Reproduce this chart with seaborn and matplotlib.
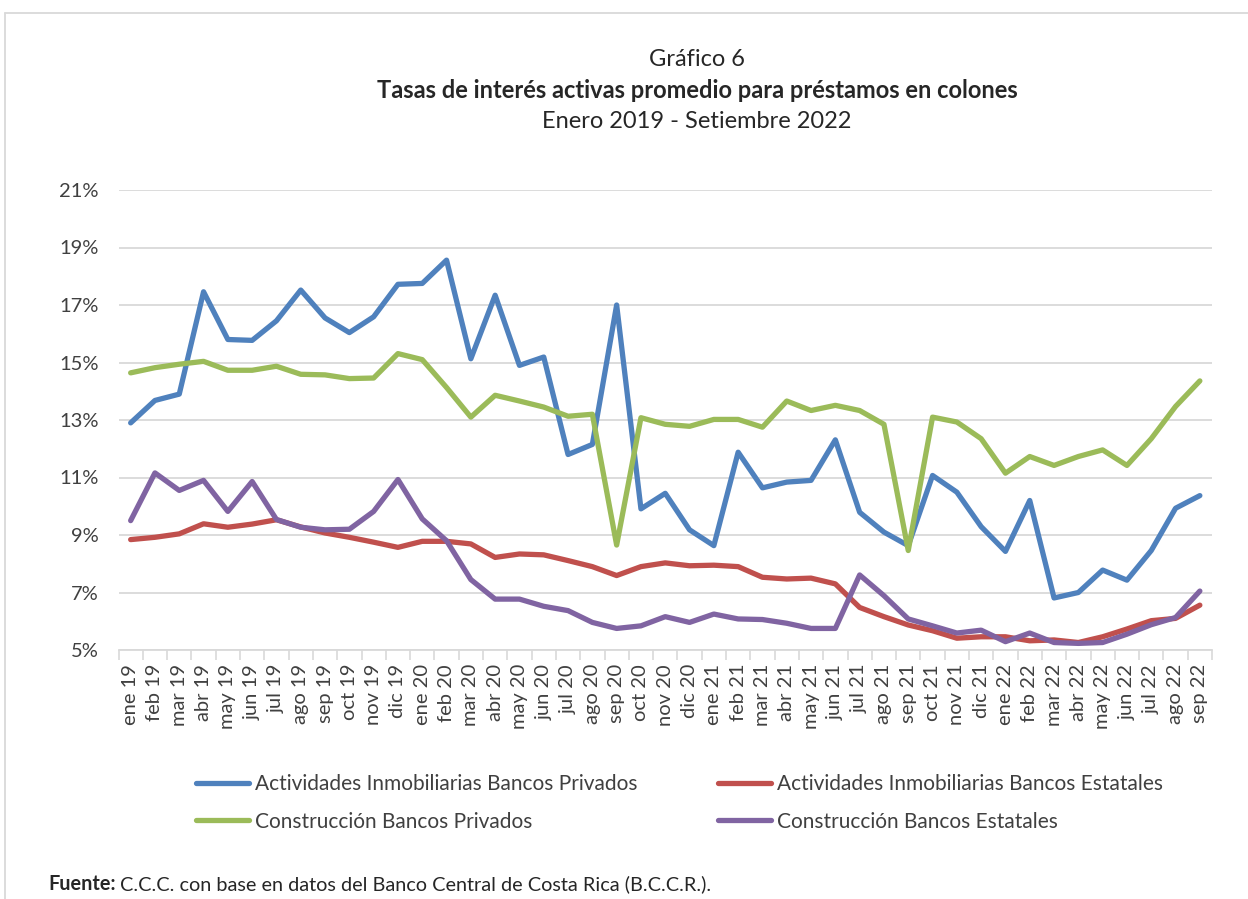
import matplotlib
matplotlib.use("Agg")
import matplotlib.pyplot as plt
from matplotlib.lines import Line2D
from matplotlib.ticker import FixedLocator, PercentFormatter
import pandas as pd
import seaborn as sns

# Etiquetas de meses (ene 19 - sep 22)
meses = [
    "ene 19", "feb 19", "mar 19", "abr 19", "may 19", "jun 19", "jul 19", "ago 19", "sep 19", "oct 19", "nov 19", "dic 19",
    "ene 20", "feb 20", "mar 20", "abr 20", "may 20", "jun 20", "jul 20", "ago 20", "sep 20", "oct 20", "nov 20", "dic 20",
    "ene 21", "feb 21", "mar 21", "abr 21", "may 21", "jun 21", "jul 21", "ago 21", "sep 21", "oct 21", "nov 21", "dic 21",
    "ene 22", "feb 22", "mar 22", "abr 22", "may 22", "jun 22", "jul 22", "ago 22", "sep 22",
]

# Tasas (%)
act_privados = [12.90, 13.68, 13.90, 17.46, 15.80, 15.77, 16.45, 17.52, 16.55, 16.04, 16.59, 17.72,
                17.75, 18.56, 15.13, 17.34, 14.90, 15.19, 11.80, 12.15, 17.00, 9.91, 10.45, 9.18,
                8.63, 11.88, 10.64, 10.84, 10.90, 12.31, 9.79, 9.10, 8.63, 11.07, 10.49, 9.29,
                8.43, 10.20, 6.81, 7.00, 7.78, 7.43, 8.46, 9.93, 10.37]
act_estatales = [8.84, 8.92, 9.04, 9.39, 9.27, 9.38, 9.53, 9.28, 9.07, 8.92, 8.75, 8.57,
                 8.78, 8.78, 8.69, 8.22, 8.34, 8.31, 8.11, 7.90, 7.59, 7.90, 8.03, 7.93,
                 7.95, 7.90, 7.53, 7.47, 7.50, 7.30, 6.48, 6.16, 5.87, 5.67, 5.41, 5.46,
                 5.46, 5.32, 5.35, 5.26, 5.46, 5.73, 6.02, 6.10, 6.56]
cons_privados = [14.64, 14.82, 14.94, 15.04, 14.73, 14.73, 14.87, 14.59, 14.57, 14.44, 14.46, 15.31,
                 15.10, 14.13, 13.10, 13.86, 13.66, 13.45, 13.13, 13.20, 8.65, 13.08, 12.85, 12.78,
                 13.02, 13.02, 12.75, 13.66, 13.33, 13.51, 13.33, 12.85, 8.46, 13.10, 12.93, 12.35,
                 11.15, 11.73, 11.42, 11.73, 11.96, 11.42, 12.35, 13.47, 14.36]
cons_estatales = [9.50, 11.16, 10.55, 10.90, 9.82, 10.86, 9.54, 9.27, 9.18, 9.20, 9.82, 10.93,
                  9.56, 8.80, 7.45, 6.77, 6.77, 6.52, 6.37, 5.96, 5.75, 5.84, 6.16, 5.96,
                  6.25, 6.08, 6.06, 5.93, 5.75, 5.75, 7.61, 6.89, 6.08, 5.84, 5.59, 5.69,
                  5.29, 5.59, 5.26, 5.23, 5.26, 5.55, 5.88, 6.13, 7.05]

series = {
    "Actividades Inmobiliarias Bancos Privados": act_privados,
    "Actividades Inmobiliarias Bancos Estatales": act_estatales,
    "Construcción Bancos Privados": cons_privados,
    "Construcción Bancos Estatales": cons_estatales,
}
colores = {
    "Actividades Inmobiliarias Bancos Privados": "#4F81BD",
    "Actividades Inmobiliarias Bancos Estatales": "#C0504D",
    "Construcción Bancos Privados": "#9BBB59",
    "Construcción Bancos Estatales": "#8064A2",
}

filas = []
for nombre, valores in series.items():
    for i, v in enumerate(valores):
        filas.append({"idx": i, "tasa": v, "serie": nombre})
df = pd.DataFrame(filas)

sns.set_theme(style="white")
plt.rcParams["font.family"] = ["Lato", "DejaVu Sans"]

fig = plt.figure(figsize=(12.48, 8.99), dpi=100)
ax = fig.add_axes([118.5 / 1248, 1 - 650 / 899, (1212 - 118.5) / 1248, 460 / 899])

sns.lineplot(data=df, x="idx", y="tasa", hue="serie", palette=colores,
             linewidth=3.8, solid_joinstyle="round", solid_capstyle="round",
             ax=ax, sort=False)

handles, labels = ax.get_legend_handles_labels()
ax.get_legend().remove()

ax.set_xlim(-0.5, len(meses) - 0.5)
ax.set_ylim(5, 21)
ax.set_yticks(range(5, 22, 2))
ax.yaxis.set_major_formatter(PercentFormatter(decimals=0))
ax.yaxis.grid(True, color="#D9D9D9", linewidth=1.3)
ax.set_axisbelow(True)
ax.set_xlabel("")
ax.set_ylabel("")

ax.set_xticks(range(len(meses)))
ax.set_xticklabels(meses, rotation=90)
ax.xaxis.set_minor_locator(FixedLocator([i - 0.5 for i in range(len(meses) + 1)]))
ax.tick_params(axis="x", which="major", length=0, pad=10, labelsize=14.5, colors="#404040")
ax.tick_params(axis="x", which="minor", length=7, width=1.2, color="#D9D9D9", bottom=True)
ax.tick_params(axis="y", length=0, pad=14.5, labelsize=14.5, colors="#404040")

for s in ["top", "right", "left"]:
    ax.spines[s].set_visible(False)
ax.spines["bottom"].set_color("#D9D9D9")
ax.spines["bottom"].set_linewidth(1.3)

# Títulos
fig.text(697 / 1248, 1 - 60 / 899, "Gráfico 6", ha="center", va="center", fontsize=17)
fig.text(697 / 1248, 1 - 91 / 899, "Tasas de interés activas promedio para préstamos en colones",
         ha="center", va="center", fontsize=17, fontweight="bold")
fig.text(697 / 1248, 1 - 122 / 899, "Enero 2019 - Setiembre 2022", ha="center", va="center", fontsize=17)

# Leyenda (dos columnas)
orden = [0, 2, 1, 3]
fig.legend([handles[i] for i in orden], [labels[i] for i in orden], ncol=2,
           loc="upper left", bbox_to_anchor=(196 / 1248, 1 - 774 / 899),
           frameon=False, fontsize=15, handlelength=2.55, handletextpad=0.3,
           labelspacing=0.85, columnspacing=3.85, borderpad=0, borderaxespad=0,
           labelcolor="#404040")

# Borde del área del gráfico
fig.add_artist(Line2D([5 / 1248, 1], [1 - 12.5 / 899, 1 - 12.5 / 899], color="#D9D9D9", linewidth=1.3))
fig.add_artist(Line2D([5 / 1248, 5 / 1248], [0, 1 - 12.5 / 899], color="#D9D9D9", linewidth=1.3))

# Fuente
t1 = fig.text(48 / 1248, 1 - 884 / 899, "Fuente:", ha="left", va="center", fontsize=14.3, fontweight="bold")
fig.canvas.draw()
bb = t1.get_window_extent(renderer=fig.canvas.get_renderer())
fig.text((bb.x1 + 5) / 1248, 1 - 884 / 899,
         "C.C.C. con base en datos del Banco Central de Costa Rica (B.C.C.R.).",
         ha="left", va="center", fontsize=14.3)

fig.savefig("out.png", dpi=100)
